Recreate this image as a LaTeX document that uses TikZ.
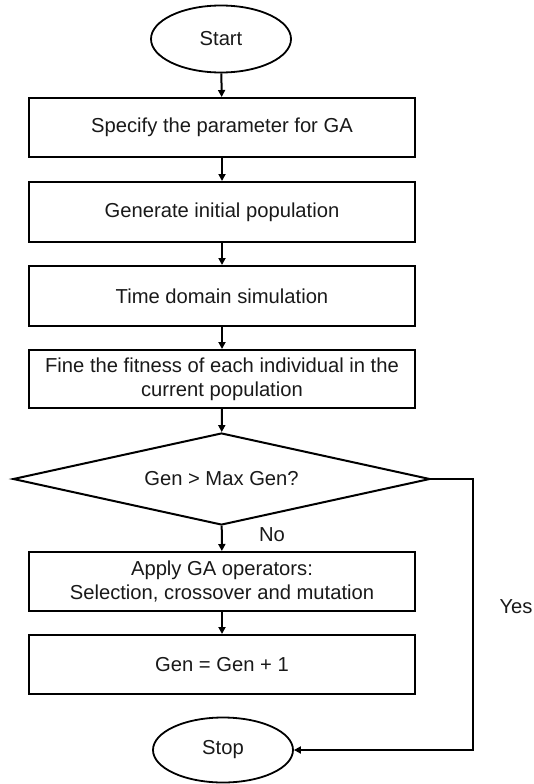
\documentclass[tikz,border=0pt]{standalone}
\usepackage{fontspec}
\setmainfont{Liberation Sans}
\usetikzlibrary{shapes.geometric,arrows.meta}
\begin{document}
\begin{tikzpicture}[x=1pt,y=-1pt,
  every node/.style={font=\fontsize{20.2}{24}\selectfont, text=black!90},
  proc/.style={draw, line width=2pt, rectangle, minimum width=386pt, inner sep=0pt, align=center},
  term/.style={draw, line width=1.8pt, ellipse, minimum width=140pt, inner sep=0pt},
  dec/.style={draw, line width=2pt, diamond, aspect=4.53, minimum width=417pt, minimum height=92pt, inner sep=0pt},
  arr/.style={line width=2pt, -{Triangle[length=7pt,width=7pt]}},
  lbl/.style={inner sep=0pt}]
\useasboundingbox (0,0) rectangle (534,784);
\node[term, minimum height=67pt] (start) at (221,39) {Start};
\node[proc, minimum height=59pt] (b1) at (222,127.5) {Specify the parameter for GA};
\node[proc, minimum height=60pt] (b2) at (222,212) {Generate initial population};
\node[proc, minimum height=60pt] (b3) at (222,296) {Time domain simulation};
\node[proc, minimum height=58pt] (b4) at (222,379) {Fine the fitness of each individual in the\\current population};
\node[dec] (d) at (221.5,479) {Gen > Max Gen?};
\node[proc, minimum height=59pt] (b5) at (222,581.5) {Apply GA operators:\\Selection, crossover and mutation};
\node[proc, minimum height=59pt] (b6) at (222,664.5) {Gen = Gen + 1};
\node[term, minimum height=65pt] (stop) at (223,750) {Stop};
\node[lbl] (no) at (272,535) {No};
\node[lbl] (yes) at (516,607) {Yes};
\coordinate (yc) at (473,479);
\draw[arr] (start) -- (b1);
\draw[arr] (b1) -- (b2);
\draw[arr] (b2) -- (b3);
\draw[arr] (b3) -- (b4);
\draw[arr] (b4) -- (d);
\draw[arr] (d) -- (b5);
\draw[arr] (b5) -- (b6);
\draw[arr] (d.east) -- (yc) |- (stop.east);
\end{tikzpicture}
\end{document}
